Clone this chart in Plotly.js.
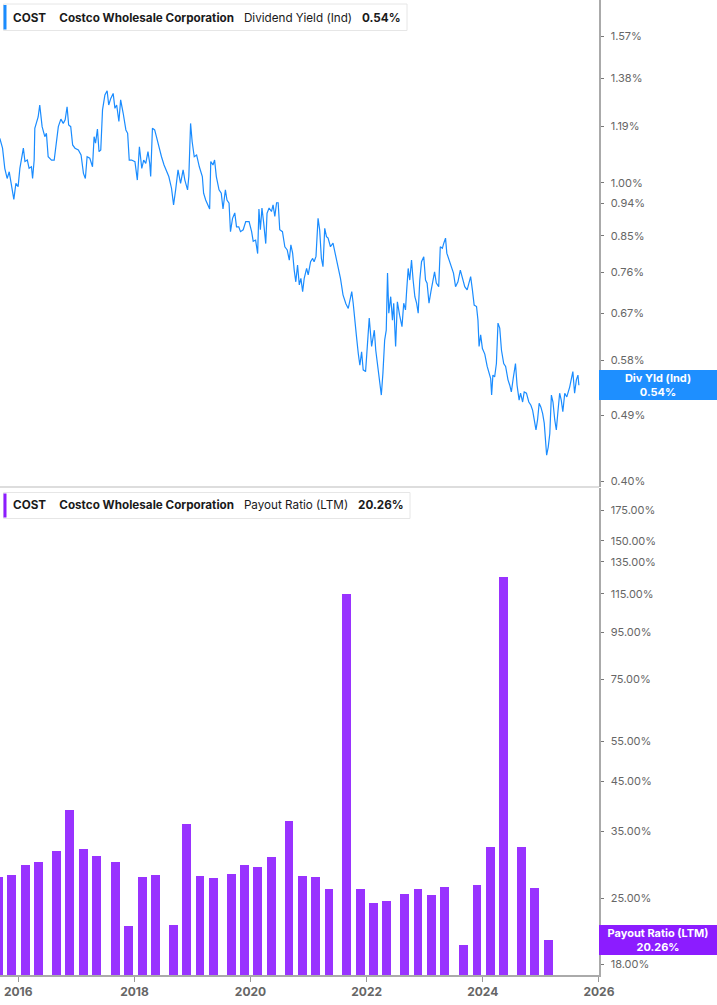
<!DOCTYPE html>
<html>
<head>
<meta charset="utf-8">
<script src="https://cdn.plot.ly/plotly-3.0.1.min.js"></script>
<style>
  html, body { margin: 0; padding: 0; background: #fff; }
  #chart { width: 717px; height: 1005px; }
</style>
</head>
<body>
<div id="chart"></div>
<script>
// dividend yield (ind), %
const yieldDates = [
  '2015-09-07','2015-09-24','2015-10-08','2015-10-23','2015-11-05','2015-11-20','2015-12-04','2015-12-17','2015-12-31',
  '2016-01-11','2016-02-02','2016-02-12','2016-02-27','2016-03-09','2016-03-24','2016-03-31','2016-04-10','2016-04-14','2016-04-25',
  '2016-05-05','2016-05-15','2016-05-22','2016-05-30','2016-06-16','2016-06-26','2016-07-07','2016-07-28','2016-08-14','2016-08-29',
  '2016-09-09','2016-09-25','2016-10-10','2016-10-22','2016-11-03','2016-11-13','2016-11-26','2016-12-08','2016-12-23',
  '2017-01-13','2017-01-30','2017-02-14','2017-02-26','2017-03-09','2017-03-26','2017-04-12','2017-04-22','2017-05-01','2017-05-13',
  '2017-05-23','2017-06-03','2017-06-14','2017-06-29','2017-07-13','2017-07-23','2017-08-05','2017-08-20','2017-08-31','2017-09-11',
  '2017-09-25','2017-10-06','2017-10-22','2017-11-08','2017-11-19','2017-11-29','2017-12-14',
  '2018-01-04','2018-01-19','2018-02-01','2018-02-16','2018-02-28','2018-03-13','2018-03-27','2018-04-07','2018-04-13','2018-04-24',
  '2018-05-08','2018-05-19','2018-06-03','2018-06-20','2018-07-06','2018-07-21','2018-08-05','2018-08-22','2018-09-04','2018-09-17',
  '2018-10-02','2018-10-18','2018-11-03','2018-11-14','2018-12-01','2018-12-09','2018-12-20','2018-12-30',
  '2019-01-12','2019-01-27','2019-02-13','2019-03-04','2019-03-12','2019-03-25','2019-04-09','2019-04-19','2019-04-26','2019-05-10',
  '2019-05-20','2019-05-31','2019-06-17','2019-07-01','2019-07-12','2019-07-27','2019-08-06','2019-08-19','2019-08-28','2019-09-10',
  '2019-09-24','2019-10-05','2019-10-19','2019-10-30','2019-11-16','2019-12-02','2019-12-23',
  '2020-01-08','2020-01-18','2020-02-02','2020-02-15','2020-02-23','2020-03-03','2020-03-13','2020-03-24','2020-04-06','2020-04-14',
  '2020-04-27','2020-05-12','2020-05-22','2020-06-02','2020-06-13','2020-06-23','2020-07-03','2020-07-20','2020-08-04','2020-08-19',
  '2020-09-01','2020-09-11','2020-09-22','2020-10-02','2020-10-12','2020-10-23','2020-11-03','2020-11-13','2020-11-24','2020-12-04',
  '2020-12-19','2020-12-29',
  '2021-01-13','2021-01-26','2021-02-04','2021-02-16','2021-02-24','2021-03-01','2021-03-11','2021-03-22','2021-04-01','2021-04-12',
  '2021-04-23','2021-05-03','2021-05-18','2021-06-03','2021-06-19','2021-07-05','2021-07-20','2021-08-05','2021-08-23','2021-09-07',
  '2021-09-17','2021-09-29','2021-10-08','2021-10-18','2021-10-29','2021-11-09','2021-11-19','2021-11-30','2021-12-10','2021-12-25',
  '2022-01-04','2022-01-17','2022-02-01','2022-02-18','2022-02-27','2022-03-12','2022-03-23','2022-04-03','2022-04-13','2022-04-24',
  '2022-05-04','2022-05-12','2022-05-20','2022-06-01','2022-06-12','2022-06-20','2022-07-02','2022-07-13','2022-07-27','2022-08-11',
  '2022-08-22','2022-09-02','2022-09-09','2022-09-19','2022-09-29','2022-10-10','2022-10-20','2022-10-31','2022-11-11','2022-11-21',
  '2022-12-01','2022-12-12','2022-12-26',
  '2023-01-06','2023-01-16','2023-01-28','2023-02-09','2023-02-24','2023-03-04','2023-03-15','2023-03-30','2023-04-09','2023-04-22',
  '2023-05-01','2023-05-12','2023-05-20','2023-06-02','2023-06-18','2023-07-01','2023-07-14','2023-07-29','2023-08-13','2023-08-26',
  '2023-09-10','2023-09-25','2023-10-07','2023-10-17','2023-10-28','2023-11-08','2023-11-23','2023-12-02','2023-12-09','2023-12-19',
  '2023-12-30',
  '2024-01-14','2024-01-29','2024-02-11','2024-02-20','2024-02-26','2024-03-05','2024-03-16','2024-03-27','2024-04-06','2024-04-17',
  '2024-04-28','2024-05-12','2024-05-24','2024-06-08','2024-06-19','2024-06-29','2024-07-10','2024-07-25','2024-08-04','2024-08-17',
  '2024-08-26','2024-09-08','2024-09-18','2024-10-02','2024-10-17','2024-10-30','2024-11-10','2024-11-20','2024-12-01','2024-12-11',
  '2024-12-21',
  '2025-01-01','2025-01-12','2025-01-22','2025-01-31','2025-02-06','2025-02-16','2025-02-26','2025-03-08','2025-03-18','2025-03-29',
  '2025-04-08','2025-04-18','2025-04-29','2025-05-09','2025-05-19','2025-05-31','2025-06-13','2025-07-01','2025-07-11','2025-07-21',
  '2025-08-01','2025-08-12','2025-08-22','2025-08-28'
];
const yieldValues = [
  1.147,1.113,1.046,1.014,1.035,0.984,0.951,0.999,0.989,
  1.046,1.113,1.068,1.073,1.046,1.051,1.014,1.073,1.183,1.201,
  1.225,1.271,1.239,1.189,1.153,1.165,1.084,1.073,1.073,1.147,
  1.189,1.217,1.201,1.214,1.264,1.195,1.189,1.124,1.113,
  1.107,1.090,1.030,1.014,1.084,1.079,1.051,1.153,1.130,1.180,
  1.101,1.107,1.252,1.311,1.328,1.271,1.297,1.317,1.258,1.271,
  1.208,1.291,1.239,1.177,1.165,1.073,1.073,
  1.068,1.009,1.118,1.046,1.073,1.062,1.101,1.062,1.020,1.183,
  1.177,1.153,1.118,1.084,1.057,1.041,1.020,0.984,0.935,0.979,
  1.041,0.999,1.041,1.009,0.979,1.020,1.201,1.135,
  1.084,1.090,1.051,1.020,0.969,0.949,0.930,0.923,1.068,1.057,
  1.073,1.020,0.979,0.969,0.923,0.979,0.949,0.940,0.861,0.897,
  0.912,0.874,0.874,0.861,0.866,0.888,0.888,
  0.861,0.836,0.839,0.805,0.923,0.866,0.926,0.884,0.830,0.911,
  0.926,0.916,0.935,0.902,0.941,0.941,0.866,0.861,0.822,0.814,
  0.789,0.827,0.806,0.765,0.738,0.777,0.731,0.746,0.716,0.746,
  0.769,0.754,
  0.785,0.793,0.785,0.798,0.848,0.897,0.866,0.793,0.773,0.870,
  0.848,0.844,0.822,0.831,0.801,0.773,0.746,0.709,0.690,0.680,
  0.698,0.716,0.691,0.649,0.623,0.592,0.571,0.595,0.563,0.560,
  0.611,0.660,0.605,0.636,0.598,0.569,0.551,0.521,0.557,0.617,
  0.636,0.758,0.670,0.705,0.656,0.691,0.605,0.694,0.666,0.643,
  0.691,0.677,0.716,0.769,0.742,0.789,0.742,0.705,0.691,0.670,
  0.742,0.785,0.797,
  0.742,0.735,0.691,0.716,0.746,0.761,0.735,0.727,0.822,0.818,
  0.831,0.844,0.806,0.789,0.773,0.758,0.727,0.738,0.765,0.746,
  0.727,0.720,0.735,0.750,0.720,0.687,0.684,0.656,0.605,0.627,
  0.601,
  0.591,0.569,0.557,0.548,0.521,0.554,0.551,0.574,0.650,0.640,
  0.598,0.574,0.569,0.546,0.537,0.526,0.547,0.574,0.537,0.513,
  0.524,0.510,0.526,0.524,0.510,0.505,0.497,0.480,0.468,0.483,
  0.508,
  0.502,0.492,0.478,0.440,0.433,0.444,0.463,0.521,0.510,0.483,
  0.468,0.495,0.524,0.513,0.495,0.524,0.518,0.534,0.546,0.560,
  0.524,0.546,0.554,0.537
];

// payout ratio (LTM), % - one bar per fiscal quarter end
const payoutDates = [
  '2015-08-30','2015-11-22','2016-02-14','2016-05-08',
  '2016-08-28','2016-11-20','2017-02-12','2017-05-07',
  '2017-09-03','2017-11-26','2018-02-18','2018-05-13',
  '2018-09-02','2018-11-25','2019-02-17','2019-05-12',
  '2019-09-01','2019-11-24','2020-02-16','2020-05-10',
  '2020-08-30','2020-11-22','2021-02-14','2021-05-09',
  '2021-08-29','2021-11-21','2022-02-13','2022-05-08',
  '2022-08-28','2022-11-20','2023-02-12','2023-05-07',
  '2023-09-03','2023-11-26','2024-02-18','2024-05-12',
  '2024-09-01','2024-11-24','2025-02-16'
];
const payoutValues = [
  27.9, 28.1, 29.6, 30.0,
  31.7, 38.9, 32.1, 31.0,
  30.0, 21.8, 27.8, 28.1,
  21.9, 36.4, 28.0, 27.7,
  28.3, 29.6, 29.3, 30.8,
  36.9, 28.0, 27.9, 26.2,
  115.0, 26.2, 24.5, 24.7,
  25.6, 26.2, 25.5, 26.5,
  19.8, 26.8, 32.4, 125.2,
  32.3, 26.3, 20.26
];

const yieldTicks = [0.40, 0.49, 0.58, 0.67, 0.76, 0.85, 0.94, 1.00, 1.19, 1.38, 1.57];
const payoutTicks = [18, 25, 35, 45, 55, 75, 95, 115, 135, 150, 175];
const yearTicks = ['2016-01-01','2018-01-01','2020-01-01','2022-01-01','2024-01-01','2026-01-01'];
const yearLabels = ['2016','2018','2020','2022','2024','2026'];

const ticker = 'COST';
const company = 'Costco Wholesale Corporation';

const blue = '#1a8cff';
const purple = '#9933ff';
const FONT = 'Inter, "Noto Sans", sans-serif';

// plot area is 599 x 975 px (no top/left margin), helpers to place decorations
const PW = 599, PH = 975;
const px = v => v / PW;
const py = v => 1 - v / PH;

const lastYield = yieldValues[yieldValues.length - 1];
const lastPayout = payoutValues[payoutValues.length - 1];

const sp = n => '\u00a0'.repeat(n);

let data = [
  {
    x: yieldDates, y: yieldValues,
    type: 'scatter', mode: 'lines',
    xaxis: 'x', yaxis: 'y',
    line: {color: blue, width: 1.2},
    hoverinfo: 'skip'
  },
  {
    x: payoutDates, y: payoutValues,
    type: 'bar',
    xaxis: 'x', yaxis: 'y2',
    width: 56 * 86400000,
    marker: {color: purple, line: {width: 0}},
    hoverinfo: 'skip'
  }
];

let axisCommon = {
  type: 'log',
  side: 'right',
  anchor: 'x',
  showgrid: false,
  zeroline: false,
  showline: true,
  linecolor: '#aaaaaa',
  linewidth: 1.5,
  ticks: 'outside',
  ticklen: 3,
  tickcolor: '#777777',
  ticklabelstandoff: 5,
  tickfont: {family: FONT, size: 11, color: '#666666'}
};

let layout = {
  width: 717,
  height: 1005,
  margin: {l: 0, r: 118, t: 0, b: 30},
  paper_bgcolor: '#ffffff',
  plot_bgcolor: '#ffffff',
  showlegend: false,
  hovermode: false,
  bargap: 0,
  xaxis: {
    type: 'date',
    anchor: 'y2',
    range: ['2015-09-08', '2026-01-01 12:00'],
    tickvals: yearTicks,
    ticktext: yearLabels,
    ticks: 'outside',
    ticklen: 5,
    tickcolor: '#999999',
    showline: true,
    linecolor: '#aaaaaa',
    linewidth: 1.5,
    showgrid: false,
    zeroline: false,
    tickfont: {family: FONT, size: 12, color: '#666666', weight: 700}
  },
  yaxis: Object.assign({}, axisCommon, {
    domain: [py(487), 1],
    range: [-0.4059, 0.2443],
    tickvals: yieldTicks,
    ticktext: yieldTicks.map(v => v.toFixed(2) + '%')
  }),
  yaxis2: Object.assign({}, axisCommon, {
    domain: [0, py(488)],
    range: [1.2314, 2.2912],
    tickvals: payoutTicks,
    ticktext: payoutTicks.map(v => v.toFixed(2) + '%')
  }),
  shapes: [
    // panel separator
    {type: 'line', xref: 'paper', yref: 'paper', x0: 0, x1: 1, y0: py(487), y1: py(487),
     line: {color: '#dddddd', width: 2}},
    // header boxes
    {type: 'rect', xref: 'paper', yref: 'paper', x0: px(3.5), x1: px(407), y0: py(30.5), y1: py(4),
     fillcolor: '#ffffff', line: {color: '#e6e6e6', width: 1}, layer: 'above'},
    {type: 'rect', xref: 'paper', yref: 'paper', x0: px(3.5), x1: px(6.5), y0: py(29.5), y1: py(5),
     fillcolor: blue, line: {width: 0}, layer: 'above'},
    {type: 'rect', xref: 'paper', yref: 'paper', x0: px(3.5), x1: px(410), y0: py(518.5), y1: py(492.5),
     fillcolor: '#ffffff', line: {color: '#e6e6e6', width: 1}, layer: 'above'},
    {type: 'rect', xref: 'paper', yref: 'paper', x0: px(3.5), x1: px(6.5), y0: py(517.5), y1: py(493.5),
     fillcolor: '#8c1cff', line: {width: 0}, layer: 'above'}
  ],
  annotations: [
    {
      xref: 'paper', yref: 'paper', x: px(11), y: py(17.5),
      xanchor: 'left', yanchor: 'middle', showarrow: false, align: 'left',
      font: {family: FONT, size: 11.7, color: '#1a1a1a'},
      text: '<b>' + ticker + '</b>' + sp(4) + '<b>' + company + '</b>' + sp(3) +
            'Dividend Yield (Ind)' + sp(3) + '<b>' + lastYield.toFixed(2) + '%</b>'
    },
    {
      xref: 'paper', yref: 'paper', x: px(11), y: py(505.5),
      xanchor: 'left', yanchor: 'middle', showarrow: false, align: 'left',
      font: {family: FONT, size: 11.7, color: '#1a1a1a'},
      text: '<b>' + ticker + '</b>' + sp(4) + '<b>' + company + '</b>' + sp(3) +
            'Payout Ratio (LTM)' + sp(3) + '<b>' + lastPayout.toFixed(2) + '%</b>'
    },
    {
      xref: 'paper', yref: 'y', x: 1, y: Math.log10(lastYield),
      xanchor: 'left', yanchor: 'middle', showarrow: false, align: 'center',
      width: 114, height: 26, borderpad: 2, borderwidth: 0,
      bgcolor: '#1e8fff',
      font: {family: FONT, size: 11, color: '#ffffff', weight: 700},
      text: 'Div Yld (Ind)<br>' + lastYield.toFixed(2) + '%'
    },
    {
      xref: 'paper', yref: 'y2', x: 1, y: Math.log10(lastPayout),
      xanchor: 'left', yanchor: 'middle', showarrow: false, align: 'center',
      width: 114, height: 26, borderpad: 2, borderwidth: 0,
      bgcolor: '#8c1cff',
      font: {family: FONT, size: 11, color: '#ffffff', weight: 700},
      text: 'Payout Ratio (LTM)<br>' + lastPayout.toFixed(2) + '%'
    }
  ]
};

Plotly.newPlot('chart', data, layout, {displayModeBar: false, staticPlot: true});
</script>
</body>
</html>
